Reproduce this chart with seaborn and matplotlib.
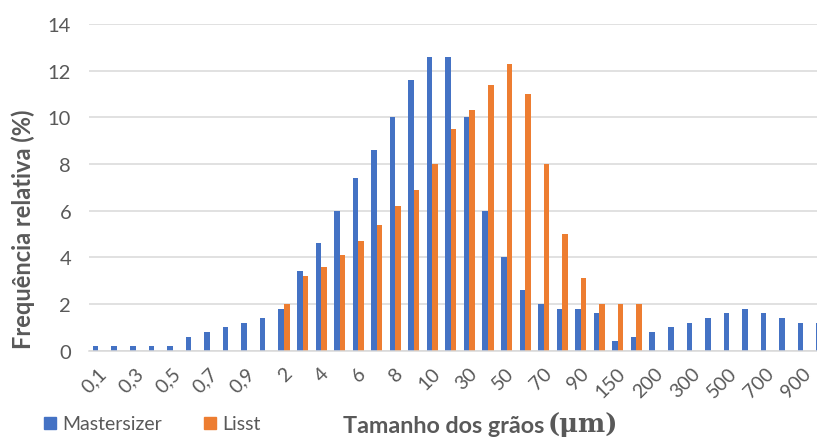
import numpy as np
import pandas as pd
import matplotlib
matplotlib.use("Agg")
import matplotlib.pyplot as plt
from matplotlib.lines import Line2D
from matplotlib.transforms import ScaledTranslation
import seaborn as sns

# ---- data ----
categories = ["0.1", "0.2", "0.3", "0.4", "0.5", "0.6", "0.7", "0.8", "0.9", "1",
              "2", "3", "4", "5", "6", "7", "8", "9", "10",
              "20", "30", "40", "50", "60", "70", "80", "90", "100",
              "150", "175", "200", "250", "300", "400", "500", "600", "700", "800", "900", "1000"]
mastersizer = [0.2, 0.2, 0.2, 0.2, 0.2, 0.6, 0.8, 1.0, 1.2, 1.4,
               1.8, 3.4, 4.6, 6.0, 7.4, 8.6, 10.0, 11.6, 12.6,
               12.6, 10.0, 6.0, 4.0, 2.6, 2.0, 1.8, 1.8, 1.6,
               0.4, 0.6, 0.8, 1.0, 1.2, 1.4, 1.6, 1.8, 1.6, 1.4, 1.2, 1.2]
lisst = [0, 0, 0, 0, 0, 0, 0, 0, 0, 0,
         2.0, 3.2, 3.6, 4.1, 4.7, 5.4, 6.2, 6.9, 8.0,
         9.5, 10.3, 11.4, 12.3, 11.0, 8.0, 5.0, 3.1, 2.0,
         2.0, 2.0, 0, 0, 0, 0, 0, 0, 0, 0, 0, 0]
series_names = ["Mastersizer", "Lisst"]
labeled_categories = ["0.1", "0.3", "0.5", "0.7", "0.9", "2", "4", "6", "8", "10",
                      "30", "50", "70", "90", "150", "200", "300", "500", "700", "900"]
tick_labels = ["0,1", "0,3", "0,5", "0,7", "0,9", "2", "4", "6", "8", "10",
               "30", "50", "70", "90", "150", "200", "300", "500", "700", "900"]
y_ticks = [0, 2, 4, 6, 8, 10, 12, 14]

df = pd.DataFrame({
    "size": categories * 2,
    "freq": mastersizer + lisst,
    "instrument": [series_names[0]] * len(categories) + [series_names[1]] * len(categories),
})

BLUE = "#4472C4"
ORANGE = "#ED7D31"
GRAY = "#595959"
GRID = "#D9D9D9"

sns.set_style("white")
plt.rcParams["font.family"] = ["Lato", "DejaVu Sans"]

W, H = 817, 439
fig = plt.figure(figsize=(W / 100, H / 100), dpi=100)
ax_left, ax_right_px = 89.2, 89.2 + 40 * 18.55
ax_top, ax_bot = 25.0, 351.7
ax = fig.add_axes([ax_left / W, 1 - ax_bot / H, (ax_right_px - ax_left) / W, (ax_bot - ax_top) / H])

sns.barplot(data=df, x="size", y="freq", hue="instrument", order=categories,
            hue_order=series_names, palette=[BLUE, ORANGE], width=0.6,
            saturation=1, errorbar=None, linewidth=0, ax=ax, legend=False)

ax.set_xlim(-0.5, len(categories) - 0.5)
ax.set_ylim(0, 14)
ax.set_yticks(y_ticks)
ax.set_yticklabels([str(v) for v in y_ticks])
ax.yaxis.grid(True, color=GRID, linewidth=1.1)
ax.set_axisbelow(True)
for s in ["top", "right", "left"]:
    ax.spines[s].set_visible(False)
ax.spines["bottom"].set_color(GRID)
ax.spines["bottom"].set_linewidth(1.1)

ax.tick_params(axis="y", length=0, pad=13, labelsize=14.5, labelcolor=GRAY)
ax.tick_params(axis="x", length=0, pad=14, labelsize=14, labelcolor=GRAY)

label_pos = [categories.index(c) for c in labeled_categories]
ax.set_xticks(label_pos)
ax.set_xticklabels(tick_labels, rotation=45, ha="right", va="center", rotation_mode="anchor")
offset = ScaledTranslation(5 / 100, 0, fig.dpi_scale_trans)
for lab in ax.get_xticklabels():
    lab.set_transform(lab.get_transform() + offset)
ax.set_xlabel("")
ax.set_ylabel("")

# axis titles
fig.text(23 / W, 1 - 229 / H, "Frequência relativa (%)", rotation=90, ha="center", va="center",
         fontsize=17, fontweight="bold", color=GRAY)
t = fig.text(343 / W, 1 - 433 / H, "Tamanho dos grãos", ha="left", va="baseline",
             fontsize=16.8, fontweight="bold", color=GRAY)
ax.annotate("(μm)", xy=(1, 0), xycoords=t, xytext=(2.5, 0), textcoords="offset points",
            ha="left", va="bottom",
            fontsize=18.5, fontweight="bold", color=GRAY, family=["DejaVu Serif"],
            annotation_clip=False)

# legend
handles = [Line2D([], [], marker="s", linestyle="none", markersize=8, color=BLUE),
           Line2D([], [], marker="s", linestyle="none", markersize=8, color=ORANGE)]
leg = fig.legend(handles, series_names, loc="center left", bbox_to_anchor=(42.8 / W, 1 - 425 / H),
                 ncol=2, frameon=False, fontsize=14, handlelength=0.75, handletextpad=0.25,
                 columnspacing=2.1, borderpad=0, borderaxespad=0)
for txt in leg.get_texts():
    txt.set_color(GRAY)

fig.savefig("out.png", dpi=100)
